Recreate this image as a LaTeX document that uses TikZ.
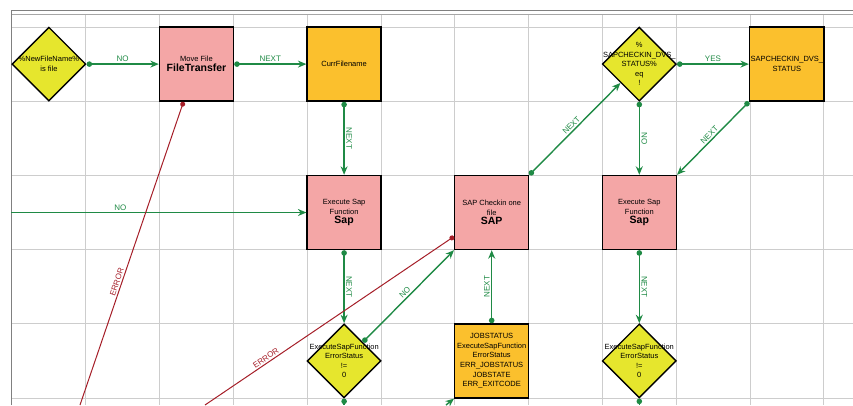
\documentclass[tikz,border=0pt]{standalone}
\usepackage{fontspec}
\setmainfont{Liberation Sans}
\usetikzlibrary{shapes.geometric,arrows.meta}
\definecolor{flowgreen}{RGB}{31,138,69}
\definecolor{errred}{RGB}{165,30,40}
\definecolor{taskpink}{RGB}{244,166,166}
\definecolor{varorange}{RGB}{251,192,45}
\definecolor{condyellow}{RGB}{230,230,45}
\definecolor{gridgray}{RGB}{205,205,205}
\newcommand{\boxfont}{\fontsize{7.5}{9.6}\selectfont}
\newcommand{\bigbold}[1]{{\fontsize{10.5}{12}\selectfont\bfseries #1}}
\tikzset{
  task/.style={draw=black, line width=1.4pt, fill=taskpink, minimum size=74pt,
    inner sep=1pt, align=center, font=\boxfont},
  var/.style={task, fill=varorange},
  cond/.style={draw=black, line width=1.4pt, fill=condyellow, diamond, aspect=1,
    minimum size=74pt, inner sep=0pt},
  condtext/.style={align=center, font=\boxfont},
  >={Stealth[length=8.5pt,width=7pt]},
  flow/.style={draw=flowgreen, line width=1.4pt, {Circle[length=5.5pt]}->},
  err/.style={draw=errred, line width=1pt, {Circle[length=5pt]}-},
  lbl/.style={font=\fontsize{8}{9}\selectfont, text=flowgreen, inner sep=1.5pt, sloped, above},
  errlbl/.style={lbl, text=errred},
  gridline/.style={draw=gridgray, line width=0.8pt},
}
\begin{document}
\begin{tikzpicture}[x=1pt,y=-1pt]
  \useasboundingbox (0,0) rectangle (853,405);
  % grid and frame
  \foreach \i in {1,...,11}
    \draw[gridline] (12+73.8*\i,14) -- (12+73.8*\i,405);
  \foreach \j in {0,...,5}
    \draw[gridline] (12,27+74.2*\j) -- (853,27+74.2*\j);
  \draw[gray!70, line width=0.8pt] (11,14) -- (853,14);
  \draw[gray, line width=1pt] (11,405) -- (11,10.5) -- (853,10.5);
  % nodes
  \path
    (48.9,64.1) node[cond, label={[condtext]center:{\%NewFileName\%\\is file}}] (d1) {}
    (196.5,64.1) node[task] (mv) {Move File\\\bigbold{FileTransfer}}
    (344.1,64.1) node[var] (cur) {CurrFilename}
    (639.3,64.1) node[cond, label={[condtext]center:{\%\\SAPCHECKIN\_DVS\_\\STATUS\%\\eq\\!}}] (d2) {}
    (786.9,64.1) node[var] (sapst) {SAPCHECKIN\_DVS\_\\STATUS}
    (344.1,212.5) node[task] (es1) {Execute Sap\\Function\\\bigbold{Sap}}
    (491.7,212.5) node[task] (sapc) {SAP Checkin one\\file\\\bigbold{SAP}}
    (639.3,212.5) node[task] (es2) {Execute Sap\\Function\\\bigbold{Sap}}
    (344.1,360.9) node[cond, label={[condtext]center:{ExecuteSapFunction\\ErrorStatus\\!=\\0}}] (d3) {}
    (491.7,360.9) node[var] (job) {JOBSTATUS\\ExecuteSapFunction\\ErrorStatus\\ERR\_JOBSTATUS\\JOBSTATE\\ERR\_EXITCODE}
    (639.3,360.9) node[cond, label={[condtext]center:{ExecuteSapFunction\\ErrorStatus\\!=\\0}}] (d4) {};
  % loose ends at the picture edge
  \coordinate (offleft) at (11,212.5);
  \coordinate (offd3) at (344.1,405);
  \coordinate (offd4) at (639.3,405);
  \coordinate (offjob) at (446,405);
  \coordinate (offmv) at (80,405);
  \coordinate (offsap) at (205,405);
  % connectors
  \begin{scope}
    \draw[flow] (d1.east) -- node[lbl]{NO} (mv.west);
    \draw[flow] (mv.east) -- node[lbl]{NEXT} (cur.west);
    \draw[flow] (cur.south) -- node[lbl]{NEXT} (es1.north);
    \draw[flow, ->] (offleft) -- node[lbl, pos=0.37]{NO} (es1.west);
    \draw[flow] (es1.south) -- node[lbl]{NEXT} (d3.north);
    \draw[flow] (d3.45) -- node[lbl]{NO} (sapc.south west);
    \draw[flow] (job.north) -- node[lbl]{NEXT} (sapc.south);
    \draw[flow] (sapc.north east) -- node[lbl]{NEXT} (d2.225);
    \draw[flow] (d2.east) -- node[lbl]{YES} (sapst.west);
    \draw[flow] (d2.south) -- node[lbl]{NO} (es2.north);
    \draw[flow] (sapst.south west) -- node[lbl]{NEXT} (es2.north east);
    \draw[flow] (es2.south) -- node[lbl]{NEXT} (d4.north);
    \draw[flow, {Circle[length=5.5pt]}-] (d3.south) -- (offd3);
    \draw[flow, {Circle[length=5.5pt]}-] (d4.south) -- (offd4);
    \draw[flow, ->] (offjob) -- (job.south west);
    \draw[err] ([xshift=-13pt]mv.south) -- node[errlbl, pos=0.6]{ERROR} (offmv);
    \draw[err] ([yshift=-24pt]sapc.west) -- node[errlbl, pos=0.745]{ERROR} (offsap);
  \end{scope}
\end{tikzpicture}
\end{document}
